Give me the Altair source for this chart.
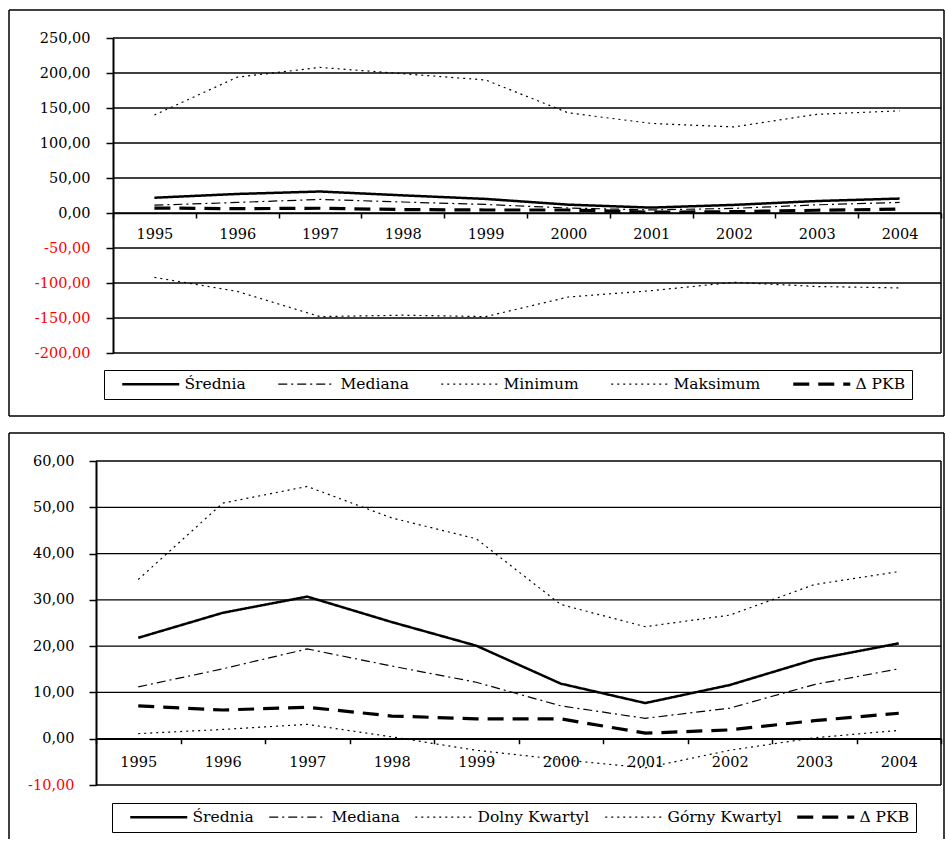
import altair as alt
import pandas as pd

# ---------------- data ----------------
years = ["1995", "1996", "1997", "1998", "1999", "2000", "2001", "2002", "2003", "2004"]

srednia = [21.8, 27.2, 30.7, 25.2, 20.1, 11.9, 7.7, 11.6, 17.1, 20.6]
mediana = [11.2, 15.1, 19.4, 15.7, 12.2, 7.1, 4.4, 6.6, 11.7, 15.1]
pkb = [7.1, 6.2, 6.8, 4.9, 4.3, 4.3, 1.2, 1.9, 3.9, 5.5]

minimum = [-92, -112, -148, -146, -148, -120, -111, -99, -105, -107]
maksimum = [140, 194, 208, 199, 190, 143, 128, 123, 141, 146]

dolny_kwartyl = [1.1, 2.0, 3.1, 0.4, -2.5, -4.5, -6.3, -2.5, 0.2, 1.8]
gorny_kwartyl = [34.4, 50.9, 54.5, 47.7, 43.2, 29.0, 24.2, 26.7, 33.3, 36.1]

top_series = [("Średnia", srednia), ("Mediana", mediana), ("Minimum", minimum),
              ("Maksimum", maksimum), ("Δ PKB", pkb)]
bottom_series = [("Średnia", srednia), ("Mediana", mediana), ("Dolny Kwartyl", dolny_kwartyl),
                 ("Górny Kwartyl", gorny_kwartyl), ("Δ PKB", pkb)]

# ---------------- styles ----------------
FONT = "DejaVu Serif"
FS = 14.5
LFS = 15.5
STYLE = {  # dash pattern, stroke width
    "Średnia": ([1, 0], 2.5),
    "Mediana": ([9, 4, 2, 4], 1.2),
    "Minimum": ([2, 4], 1.2),
    "Maksimum": ([2, 4], 1.2),
    "Dolny Kwartyl": ([2, 4], 1.2),
    "Górny Kwartyl": ([2, 4], 1.2),
    "Δ PKB": ([16, 9], 3.2),
}
SW_EXPR = ("datum.value === 'Średnia' ? 2.5 : (datum.value === 'Δ PKB' ? 3.2 : 1.2)")
LABEL_EXPR = "(datum.value < 0 ? '-' : '') + replace(format(abs(datum.value), '.2f'), '.', ',')"

W = 845   # common view width  (page x 95 .. 940)
HV = 324  # common view height


def frame_rule(x1, x2, y1, y2, sw=1.5):
    return alt.Chart(pd.DataFrame({"k": [0]})).mark_rule(
        color="black", strokeWidth=sw
    ).encode(x=alt.value(x1), x2=alt.value(x2), y=alt.value(y1), y2=alt.value(y2))


def panel(series, ymin, ymax, step, Hp, shift, frame, legend_pos, col_pad, ylab_pad,
          xlab_pad, close_bottom):
    """Hp: plot height; shift: px the plot area starts right of the view origin."""
    rows = []
    for name, vals in series:
        for yr, v in zip(years, vals):
            rows.append({"year": yr, "value": v, "series": name, "w": STYLE[name][1]})
    df = pd.DataFrame(rows)
    names = [n for n, _ in series]
    zero_px = Hp * ymax / (ymax - ymin)
    ticks = list(range(ymin, ymax + 1, step))

    yscale = alt.Scale(domain=[ymin, ymax], nice=False, zero=False, range=[Hp, 0])
    yaxis = alt.Axis(title=None, values=ticks, offset=-shift,
                     tickSize=7, tickColor="black", tickWidth=1.5,
                     domainColor="black", domainWidth=2, grid=False,
                     labelPadding=ylab_pad, labelExpr=LABEL_EXPR,
                     labelFont=FONT, labelFontSize=FS,
                     labelColor={"condition": {"test": "datum.value < 0", "value": "#ff0000"},
                                 "value": "black"})

    lines = alt.Chart(df).mark_line(color="black", strokeCap="butt").encode(
        x=alt.X("year:O", sort=years, bandPosition=0.5,
                scale=alt.Scale(type="band", paddingInner=0, paddingOuter=0, range=[shift, W]),
                axis=alt.Axis(title=None, labelAngle=0, offset=-(HV - zero_px), tickBand="extent",
                              tickSize=5, tickColor="black", tickWidth=1.5,
                              domainColor="black", domainWidth=1.5, grid=False,
                              labelPadding=xlab_pad, labelColor="black",
                              labelFont=FONT, labelFontSize=FS)),
        y=alt.Y("value:Q", scale=yscale, axis=yaxis),
        strokeDash=alt.StrokeDash("series:N",
                                  scale=alt.Scale(domain=names, range=[STYLE[n][0] for n in names]),
                                  legend=alt.Legend(title=None, orient="none",
                                                    legendX=legend_pos[0], legendY=legend_pos[1],
                                                    direction="horizontal", columns=5,
                                                    columnPadding=col_pad, symbolType="stroke",
                                                    symbolSize=3249, symbolStrokeColor="black",
                                                    symbolStrokeWidth={"expr": SW_EXPR},
                                                    symbolOffset=33,
                                                    labelFont=FONT, labelFontSize=LFS,
                                                    labelColor="black", labelOffset=26,
                                                    strokeColor="black", padding=6)),
        strokeWidth=alt.StrokeWidth("w:Q", scale=None),
    )

    grid = alt.Chart(pd.DataFrame({"value": ticks})).mark_rule(
        color="black", strokeWidth=1.3
    ).encode(y=alt.Y("value:Q", scale=yscale, axis=yaxis), x=alt.value(shift), x2=alt.value(W))

    fx1, fx2, fy1, fy2 = frame
    layers = [frame_rule(fx1, fx1, fy1, fy2), frame_rule(fx2, fx2, fy1, fy2),
              frame_rule(fx1, fx2, fy1, fy1), frame_rule(W, W, 0, Hp)]
    if close_bottom:
        layers.append(frame_rule(fx1, fx2, fy2, fy2))
    layers += [grid, lines]
    return alt.layer(*layers).properties(width=W, height=HV)


# both views share origin x = 95 and identical overhangs; the top plot starts 17 px further right.
top = panel(top_series, -200, 250, 50, 315, 17,
            frame=(-87, 848, -28, 378), legend_pos=(8, 332), col_pad=20,
            ylab_pad=16, xlab_pad=9, close_bottom=True)
bottom = panel(bottom_series, -10, 60, 10, 324, 0,
               frame=(-87, 848, -28, 378), legend_pos=(16, 342), col_pad=3,
               ylab_pad=15, xlab_pad=12, close_bottom=False)

chart = alt.vconcat(top, bottom, spacing=13).resolve_scale(
    x="independent", y="independent", strokeDash="independent"
).resolve_legend(strokeDash="independent").properties(
    padding={"left": 7, "top": 8, "right": 0, "bottom": 0}, background="white"
).configure_view(stroke="transparent")

chart.save("out.html", embed_options={"renderer": "svg", "actions": False})
